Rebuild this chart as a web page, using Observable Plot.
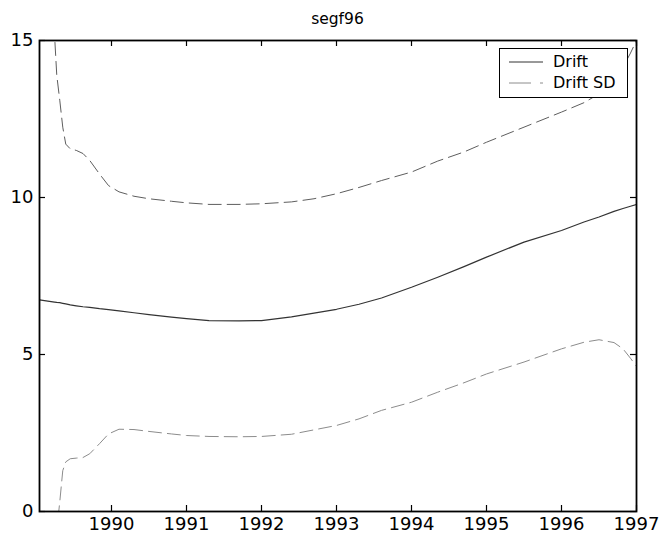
<!DOCTYPE html>
<html>
<head>
<meta charset="utf-8">
<script src="https://cdn.jsdelivr.net/npm/d3@7"></script>
<script src="https://cdn.jsdelivr.net/npm/@observablehq/plot@0.6"></script>
<style>
  body { margin: 0; background: #fff; font-family: "DejaVu Sans", sans-serif; }
  #wrap { position: relative; width: 661px; height: 540px; }
  #title { height: 30px; box-sizing: border-box; padding: 10px 25px 0 39px; text-align: center; font-size: 15.5px; line-height: 18px; color: #000; }
  #legend { position: absolute; left: 499px; top: 48px; width: 129px; height: 50px; box-sizing: border-box; border: 1.5px solid #000; background: #fff; }
  #legend .row { position: absolute; left: 0; height: 20px; width: 100%; }
  #legend svg { position: absolute; left: 9px; top: 0; }
  #legend span { position: absolute; left: 53px; top: 0; font-size: 16px; line-height: 20px; color: #000; }
</style>
</head>
<body>
<div id="wrap">
  <div id="title"></div>
  <div id="chart"></div>
  <div id="legend"></div>
</div>
<script>
const title = "segf96";
const seriesNames = ["Drift", "Drift SD"];
const xTicks = [1990, 1991, 1992, 1993, 1994, 1995, 1996, 1997];
const yTicks = [0, 5, 10, 15];

const years = [1989.04, 1989.15, 1989.24, 1989.27, 1989.31, 1989.35, 1989.39, 1989.45, 1989.53, 1989.62,
  1989.71, 1989.84, 1989.96, 1990.1, 1990.3, 1990.5, 1990.8, 1991.0, 1991.3, 1991.7,
  1992.0, 1992.4, 1992.7, 1993.0, 1993.3, 1993.6, 1994.0, 1994.35, 1994.7, 1995.0,
  1995.5, 1996.0, 1996.3, 1996.5, 1996.7, 1996.82, 1996.92, 1997.0];
const drift = [6.74, 6.70, 6.67, 6.66, 6.65, 6.63, 6.61, 6.58, 6.55, 6.52,
  6.50, 6.46, 6.43, 6.39, 6.33, 6.27, 6.19, 6.14, 6.08, 6.07,
  6.08, 6.20, 6.32, 6.44, 6.60, 6.80, 7.14, 7.46, 7.80, 8.10,
  8.58, 8.95, 9.22, 9.38, 9.56, 9.65, 9.72, 9.78];
const upperSD = [24, 19, 15.2, 13.9, 13.1, 12.24, 11.7, 11.55, 11.5, 11.4,
  11.18, 10.75, 10.38, 10.18, 10.04, 9.96, 9.88, 9.83, 9.78, 9.78,
  9.80, 9.86, 9.96, 10.12, 10.32, 10.54, 10.81, 11.16, 11.45, 11.76,
  12.24, 12.72, 13.02, 13.3, 13.75, 14.15, 14.6, 15.0];
const lowerSD = [-10.5, -5.6, -1.9, -0.6, 0.3, 1.3, 1.58, 1.68, 1.7, 1.72,
  1.84, 2.16, 2.47, 2.62, 2.61, 2.55, 2.47, 2.42, 2.39, 2.38,
  2.39, 2.46, 2.6, 2.74, 2.95, 3.22, 3.48, 3.8, 4.1, 4.38,
  4.76, 5.18, 5.39, 5.47, 5.38, 5.18, 4.88, 4.62];

const driftData = years.map((x, i) => ({x, y: drift[i]}));
const upperData = years.map((x, i) => ({x, y: upperSD[i]}));
const lowerData = years.map((x, i) => ({x, y: lowerSD[i]}));

document.getElementById("title").textContent = title;

const W = 661, H = 510, ML = 39, MR = 25, MT = 10, MB = 29;
const innerW = W - ML - MR, innerH = H - MT - MB;
const T = 6; // inward tick length

const chart = Plot.plot({
  width: W,
  height: H,
  marginLeft: ML,
  marginRight: MR,
  marginTop: MT,
  marginBottom: MB,
  style: {fontFamily: "DejaVu Sans, sans-serif", background: "white", color: "black"},
  x: {domain: [1989.04, 1997], ticks: xTicks, tickFormat: d => String(d)},
  y: {domain: [0, 15], ticks: yTicks},
  marks: [
    Plot.line(upperData, {x: "x", y: "y", stroke: "#5e5e5e", strokeWidth: 1, strokeDasharray: "13,6", clip: true}),
    Plot.line(lowerData, {x: "x", y: "y", stroke: "#8c8c8c", strokeWidth: 1, strokeDasharray: "13,6", clip: true}),
    Plot.line(driftData, {x: "x", y: "y", stroke: "#333", strokeWidth: 1.2, clip: true}),
    Plot.axisX(xTicks, {anchor: "bottom", tickSize: 0, tickPadding: 6, fontSize: 18, label: null, tickFormat: d => String(d)}),
    Plot.axisY(yTicks, {anchor: "left", tickSize: 0, tickPadding: 6, fontSize: 18, label: null}),
    // inward ticks on all four sides
    Plot.tickX(xTicks, {x: d => d, insetTop: innerH - T, stroke: "black", strokeWidth: 1.2}),
    Plot.tickX(xTicks, {x: d => d, insetBottom: innerH - T, stroke: "black", strokeWidth: 1.2}),
    Plot.tickY(yTicks, {y: d => d, insetRight: innerW - T, stroke: "black", strokeWidth: 1.2}),
    Plot.tickY(yTicks, {y: d => d, insetLeft: innerW - T, stroke: "black", strokeWidth: 1.2}),
    Plot.frame({stroke: "black", strokeWidth: 1.8})
  ]
});
document.getElementById("chart").appendChild(chart);

// Legend
const legend = document.getElementById("legend");
const legendStyles = [
  {stroke: "#333", dash: null},
  {stroke: "#8c8c8c", dash: "22,9"}
];
seriesNames.forEach((name, i) => {
  const row = document.createElement("div");
  row.className = "row";
  row.style.top = (i === 0 ? 3 : 24) + "px";
  const svg = d3.create("svg").attr("width", 36).attr("height", 20);
  svg.append("line").attr("x1", 0).attr("x2", 34).attr("y1", 10).attr("y2", 10)
    .attr("stroke", legendStyles[i].stroke).attr("stroke-width", 1)
    .attr("stroke-dasharray", legendStyles[i].dash);
  row.appendChild(svg.node());
  const span = document.createElement("span");
  span.textContent = name;
  row.appendChild(span);
  legend.appendChild(row);
});
</script>
</body>
</html>
